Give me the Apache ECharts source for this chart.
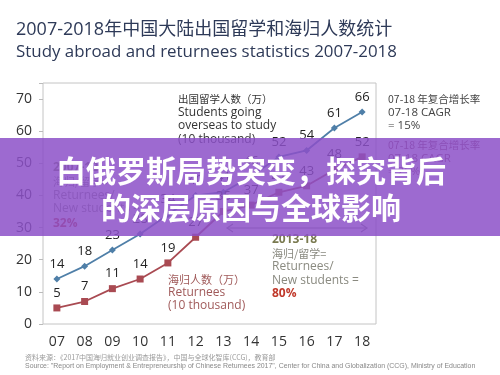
<!DOCTYPE html>
<html>
<head>
<meta charset="utf-8">
<script src="https://cdn.jsdelivr.net/npm/echarts@6/dist/echarts.min.js"></script>
<style>
html,body{margin:0;padding:0;background:#fff;}
#chart{width:500px;height:375px;}
</style>
</head>
<body>
<div id="chart"></div>
<script>
// 年份 / 出国留学人数 / 海归人数 (万)
var years = ['07','08','09','10','11','12','13','14','15','16','17','18'];
var students = [14, 18, 23, 28, 34, 40, 41, 46, 52, 54, 61, 66];
var returnees = [5, 7, 11, 14, 19, 27, 35, 37, 41, 43, 48, 52];
var yTicks = [0, 10, 20, 30, 40, 50, 60, 70];

var cjk = '"Noto Sans CJK SC", sans-serif';
var lat = '"Open Sans", "Noto Sans CJK SC", sans-serif';

function txt(x, y, s, size, color, weight, font){
	return {
		type:'text', x:x, y:y, z:10,
		style:{text:s, fontSize:size, fill:color, fontWeight:weight||'normal',
			fontFamily:font||lat, textVerticalAlign:'middle'}
	};
}

var myChart = echarts.init(document.getElementById('chart'));
var option = {
	animation:false,
	grid:{left:43, right:124, top:83, bottom:51, show:true, borderColor:'#c4c4c4', borderWidth:1},
	xAxis:{
		type:'category',
		data:years,
		axisLine:{show:false},
		axisTick:{show:false},
		axisLabel:{color:'#333', fontSize:14, margin:11, fontFamily:lat}
	},
	yAxis:{
		type:'value',
		min:0, max:75, interval:10,
		splitLine:{show:false},
		axisLine:{show:false},
		axisTick:{show:true, length:4, lineStyle:{color:'#bbb'}},
		axisLabel:{color:'#333', fontSize:14, margin:11, fontFamily:lat,
			formatter:function(v){ return yTicks.indexOf(v) >= 0 ? v : ''; }}
	},
	series:[
		{
			name:'出国留学人数',
			type:'line',
			data:students,
			symbol:'diamond', symbolSize:7,
			lineStyle:{color:'#4f7fa8', width:1.8},
			itemStyle:{color:'#4f7fa8'},
			label:{show:true, position:'top', distance:5, color:'#222', fontSize:13, fontFamily:lat}
		},
		{
			name:'海归人数',
			type:'line',
			data:returnees,
			symbol:'rect', symbolSize:7,
			lineStyle:{color:'#a94a52', width:1.8},
			itemStyle:{color:'#a94a52'},
			label:{show:true, position:'top', distance:5, color:'#222', fontSize:13, fontFamily:lat}
		}
	],
	graphic:[
		/*标题*/
		txt(16, 30, '2007-2018年中国大陆出国留学和海归人数统计', 18, '#2e3a58', 'normal', lat),
		txt(16, 52, 'Study abroad and returnees statistics 2007-2018', 16.9, '#2e3a58', 'normal', lat),
		/*图内注释*/
		txt(178, 99, '出国留学人数（万）', 10.5, '#333', 'normal', cjk),
		txt(178, 113, 'Students going', 12, '#333'),
		txt(178, 126, 'overseas to study', 12, '#333'),
		txt(178, 140, '(10 thousand)', 12, '#333'),
		txt(168, 280, '海归人数（万）', 11, '#a05a5a', 'normal', cjk),
		txt(168, 293, 'Returnees', 12, '#a05a5a'),
		txt(168, 306, '(10 thousand)', 12, '#a05a5a'),
		txt(53, 168, '2007-12', 12, '#7a7a50', 'bold'),
		txt(53, 182, '海归/留学=', 11, '#8a8a80', 'normal', cjk),
		txt(53, 196, 'Returnees/', 12, '#8a8a80'),
		txt(53, 209, 'New students =', 12, '#8a8a80'),
		txt(53, 224, '32%', 12, '#c0392b', 'bold'),
		txt(272, 240, '2013-18', 12, '#7a7a50', 'bold'),
		txt(272, 254, '海归/留学=', 11, '#8a8a80', 'normal', cjk),
		txt(272, 267, 'Returnees/', 12, '#8a8a80'),
		txt(272, 281, 'New students =', 12, '#8a8a80'),
		txt(272, 294, '80%', 12, '#c0392b', 'bold'),
		{type:'line', z:10, shape:{x1:227, y1:228, x2:367, y2:228}, style:{stroke:'#888', lineWidth:1.2}},
		{type:'polyline', z:10, shape:{points:[[233,224],[227,228],[233,232]]}, style:{stroke:'#888', lineWidth:1.2, fill:null}},
		{type:'polyline', z:10, shape:{points:[[361,224],[367,228],[361,232]]}, style:{stroke:'#888', lineWidth:1.2, fill:null}},
		/*右侧增长率*/
		txt(388, 99, '07-18 年复合增长率', 10.5, '#444', 'normal', cjk),
		txt(388, 113, '07-18 CAGR', 11.5, '#444'),
		txt(388, 126, '= 15%', 11.5, '#444'),
		txt(388, 145, '07-18 年复合增长率', 10.5, '#8a4a5a', 'normal', cjk),
		txt(388, 159, '07-18 CAGR', 11.5, '#8a4a5a'),
		txt(388, 172, '= 25%', 11.5, '#8a4a5a'),
		/*资料来源*/
		txt(25, 357, '资料来源：《2017中国海归就业创业调查报告》，中国与全球化智库(CCG)，教育部', 7, '#999', 'normal', cjk),
		txt(25, 366, 'Source: "Report on Employment & Entrepreneurship of Chinese Returnees 2017", Center for China and Globalization (CCG), Ministry of Education', 6.95, '#888', 'normal', '"Liberation Sans", sans-serif'),
		/*紫色横幅*/
		{type:'rect', z:100, shape:{x:0, y:138, width:500, height:98}, style:{fill:'rgba(140,80,200,0.85)'}},
		{
			type:'text', z:101, x:251, y:171,
			style:{text:'白俄罗斯局势突变，探究背后', fontSize:30, fontWeight:'bold', fill:'#fff',
				fontFamily:cjk, textAlign:'center', textVerticalAlign:'middle',
				shadowColor:'rgba(40,0,60,0.55)', shadowBlur:3, shadowOffsetX:1, shadowOffsetY:1}
		},
		{
			type:'text', z:101, x:251, y:208,
			style:{text:'的深层原因与全球影响', fontSize:30, fontWeight:'bold', fill:'#fff',
				fontFamily:cjk, textAlign:'center', textVerticalAlign:'middle',
				shadowColor:'rgba(40,0,60,0.55)', shadowBlur:3, shadowOffsetX:1, shadowOffsetY:1}
		}
	]
};
myChart.setOption(option);
</script>
</body>
</html>
